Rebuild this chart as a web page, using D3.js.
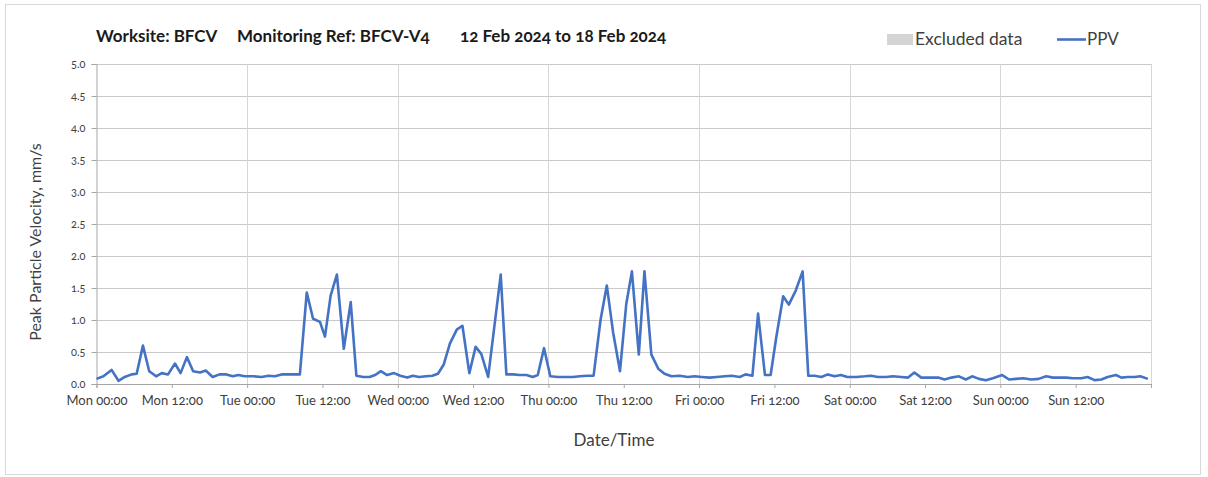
<!DOCTYPE html>
<html>
<head>
<meta charset="utf-8">
<script src="https://cdn.jsdelivr.net/npm/d3@7"></script>
<style>
  html, body { margin: 0; padding: 0; background: #ffffff; }
  svg { display: block; font-family: Lato, "Noto Sans", sans-serif; font-variant-numeric: oldstyle-nums; }
</style>
</head>
<body>
<svg id="chart" width="1208" height="477"></svg>
<script>
// Monitoring period start (Monday 12 Feb 2024, 00:00)
const periodStart = new Date(2024, 1, 12, 0, 0);
const periodEnd = new Date(2024, 1, 19, 0, 0);

// Title parts
const titleParts = ["Worksite: BFCV", "Monitoring Ref: BFCV-V4", "12 Feb 2024 to 18 Feb 2024"];

// Reading times, hours after periodStart
const readingHours = [
  0.0, 1.1, 2.4, 3.5, 4.5, 5.6, 6.4, 7.4, 8.4, 9.5, 10.4, 11.4, 12.5, 13.4, 14.4, 15.4,
  16.5, 17.4, 18.5, 19.6, 20.7, 21.7, 22.6, 23.6, 25.0, 26.3, 27.4, 28.4, 29.5, 30.8, 32.4,
  33.5, 34.5, 35.6, 36.4, 37.3, 38.3, 39.4, 40.5, 41.4, 42.5, 43.5, 44.4, 45.3, 46.3, 47.4,
  48.4, 49.5, 50.4, 51.4, 52.5, 53.5, 54.4, 55.3, 56.3, 57.4, 58.3, 59.4, 60.4, 61.3, 62.4,
  64.4, 65.3, 66.4, 67.4, 68.5, 69.5, 70.3, 71.3, 72.3, 73.5, 74.9, 75.9, 77.0, 78.2, 79.2,
  80.3, 81.3, 82.3, 83.4, 84.4, 85.3, 86.4, 87.3, 88.4, 89.5, 90.5, 91.6, 92.9, 94.2, 95.3,
  96.4, 97.7, 98.8, 100.1, 101.2, 102.5, 103.4, 104.5, 105.4, 106.5, 107.4, 108.3, 109.4,
  110.3, 111.4, 112.5, 113.4, 114.4, 115.5, 116.5, 117.6, 118.6, 119.6, 121.1, 122.4, 123.4,
  124.5, 125.8, 126.9, 128.2, 129.3, 130.3, 131.4, 132.7, 134.1, 135.1, 136.2, 137.4, 138.5,
  139.5, 140.6, 141.7, 142.8, 144.3, 145.4, 146.5, 147.7, 148.9, 150.1, 151.3, 152.4, 153.4,
  154.5, 155.6, 156.9, 157.9, 159.0, 160.1, 161.1, 162.4, 163.3, 164.3, 165.4, 166.3, 167.5
];

// Peak particle velocity, mm/s
const ppvValues = [
  0.08, 0.12, 0.22, 0.05, 0.11, 0.15, 0.16, 0.60, 0.20, 0.12, 0.17, 0.15, 0.32, 0.17, 0.42, 0.20,
  0.18, 0.21, 0.11, 0.15, 0.15, 0.12, 0.14, 0.12, 0.12, 0.11, 0.13, 0.12, 0.15, 0.15, 0.15,
  1.43, 1.02, 0.97, 0.74, 1.38, 1.71, 0.55, 1.28, 0.13, 0.11, 0.11, 0.14, 0.20, 0.14, 0.17,
  0.13, 0.10, 0.13, 0.11, 0.12, 0.13, 0.16, 0.30, 0.63, 0.85, 0.91, 0.17, 0.58, 0.47, 0.11,
  1.71, 0.15, 0.15, 0.14, 0.14, 0.11, 0.14, 0.56, 0.12, 0.11, 0.11, 0.11, 0.12, 0.13, 0.13,
  1.00, 1.54, 0.81, 0.20, 1.25, 1.76, 0.46, 1.76, 0.46, 0.24, 0.16, 0.12, 0.13, 0.11, 0.12,
  0.11, 0.10, 0.11, 0.12, 0.13, 0.11, 0.15, 0.13, 1.10, 0.14, 0.14, 0.73, 1.37,
  1.24, 1.46, 1.76, 0.13, 0.13, 0.11, 0.15, 0.12, 0.14, 0.11, 0.11, 0.12, 0.13,
  0.11, 0.11, 0.12, 0.11, 0.10, 0.18, 0.10, 0.10, 0.10, 0.07, 0.10, 0.12, 0.07,
  0.12, 0.08, 0.06, 0.09, 0.14, 0.07, 0.08, 0.09, 0.07, 0.08, 0.12, 0.10, 0.10,
  0.10, 0.09, 0.09, 0.11, 0.06, 0.07, 0.11, 0.14, 0.10, 0.11, 0.11, 0.12, 0.08
];

// Axis ticks
const yTickValues = [0, 0.5, 1, 1.5, 2, 2.5, 3, 3.5, 4, 4.5, 5];
const legendLabels = ["Excluded data", "PPV"];
const axisTitles = { x: "Date/Time", y: "Peak Particle Velocity, mm/s" };

const readings = readingHours.map((h, i) => ({
  t: new Date(periodStart.getTime() + h * 3600 * 1000),
  v: ppvValues[i]
}));

const svg = d3.select("#chart");
const plot = { left: 96.5, right: 1151, top: 64, bottom: 384 };

const x = d3.scaleTime().domain([periodStart, periodEnd]).range([plot.left, plot.right]);
const y = d3.scaleLinear().domain([0, 5]).range([plot.bottom, plot.top]);

const lineBlue = "#4472C4";
const textColor = "#404040";
const fontStack = "Lato, 'Noto Sans', sans-serif";

// Outer frame
svg.append("rect")
  .attr("x", 5.5).attr("y", 4.5).attr("width", 1195).attr("height", 470)
  .attr("fill", "#fff").attr("stroke", "#d9d9d9").attr("stroke-width", 1);

// Horizontal gridlines
svg.append("g")
  .selectAll("line")
  .data(yTickValues.filter(d => d > 0))
  .join("line")
  .attr("x1", plot.left).attr("x2", plot.right)
  .attr("y1", d => Math.round(y(d)) + 0.5).attr("y2", d => Math.round(y(d)) + 0.5)
  .attr("stroke", "#c9c9c9").attr("stroke-width", 1);

// Vertical gridlines at each midnight
const midnights = d3.timeDay.range(d3.timeDay.offset(periodStart, 1), d3.timeDay.offset(periodEnd, 1));
svg.append("g")
  .selectAll("line")
  .data(midnights)
  .join("line")
  .attr("x1", d => Math.round(x(d)) + 0.5).attr("x2", d => Math.round(x(d)) + 0.5)
  .attr("y1", plot.top).attr("y2", plot.bottom)
  .attr("stroke", "#d6d6d6").attr("stroke-width", 1);

// Y axis
const yAxis = d3.axisLeft(y).tickValues(yTickValues).tickFormat(d3.format(".1f")).tickSize(5).tickPadding(6);
const yG = svg.append("g").attr("transform", `translate(${plot.left},0)`).call(yAxis);
yG.select(".domain").attr("stroke", "#a6a6a6");
yG.selectAll(".tick line").attr("stroke", "#a6a6a6");
yG.selectAll(".tick text").attr("fill", textColor).attr("font-size", 11)
  .attr("font-family", fontStack);

// X axis, ticks every 12 hours
const xTicks = d3.timeHour.every(12).range(periodStart, d3.timeHour.offset(periodEnd, 1));
const xAxis = d3.axisBottom(x).tickValues(xTicks)
  .tickFormat(d => d < periodEnd ? d3.timeFormat("%a %H:%M")(d) : "")
  .tickSize(4).tickPadding(8);
const xG = svg.append("g").attr("transform", `translate(0,${plot.bottom})`).call(xAxis);
xG.select(".domain").attr("stroke", "#a6a6a6");
xG.selectAll(".tick line").attr("stroke", "#a6a6a6");
xG.selectAll(".tick text").attr("fill", textColor).attr("font-size", 13)
  .attr("font-family", fontStack);

// PPV series
const line = d3.line().x(d => x(d.t)).y(d => y(d.v));
svg.append("path")
  .datum(readings)
  .attr("d", line)
  .attr("fill", "none")
  .attr("stroke", lineBlue)
  .attr("stroke-width", 2.6)
  .attr("stroke-linejoin", "round");

// Title
const titleX = [96, 237, 460];
svg.append("g").selectAll("text")
  .data(titleParts)
  .join("text")
  .attr("x", (d, i) => titleX[i]).attr("y", 42)
  .attr("font-size", 17).attr("font-weight", "bold").attr("fill", "#1a1a1a")
  .text(d => d);

// Legend
svg.append("rect").attr("x", 887).attr("y", 34).attr("width", 26).attr("height", 11).attr("fill", "#d4d4d4");
svg.append("text").attr("x", 915).attr("y", 45).attr("font-size", 17.5).attr("fill", textColor).text(legendLabels[0]);
svg.append("line").attr("x1", 1057).attr("x2", 1086).attr("y1", 39.5).attr("y2", 39.5)
  .attr("stroke", lineBlue).attr("stroke-width", 2.6);
svg.append("text").attr("x", 1087).attr("y", 45).attr("font-size", 17).attr("fill", textColor).text(legendLabels[1]);

// Axis titles
svg.append("text")
  .attr("x", 614).attr("y", 446)
  .attr("text-anchor", "middle").attr("font-size", 17).attr("fill", textColor)
  .text(axisTitles.x);
svg.append("text")
  .attr("transform", `translate(41,${(plot.top + plot.bottom) / 2 + 18}) rotate(-90)`)
  .attr("text-anchor", "middle").attr("font-size", 16).attr("fill", textColor)
  .text(axisTitles.y);
</script>
</body>
</html>
